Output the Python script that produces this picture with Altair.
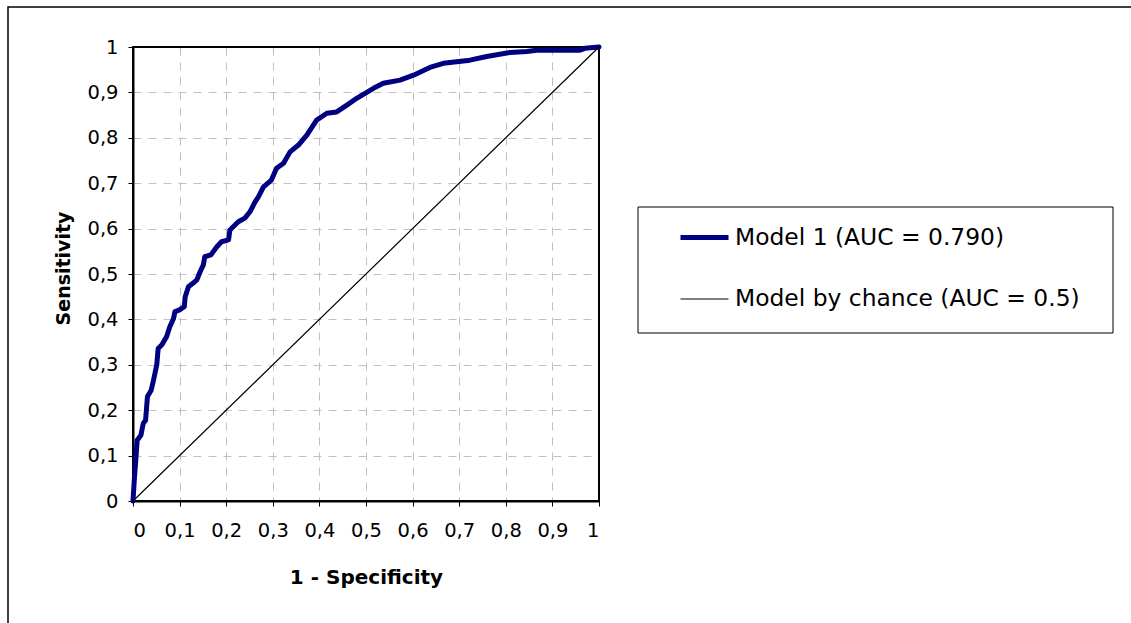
import altair as alt
import pandas as pd

# ROC curve of Model 1
model_fpr = [0, 0.003, 0.006, 0.009, 0.017, 0.022, 0.027, 0.031, 0.039, 0.044,
             0.051, 0.054, 0.062, 0.072, 0.079, 0.087, 0.09, 0.1, 0.11, 0.112,
             0.119, 0.129, 0.137, 0.144, 0.151, 0.154, 0.167, 0.18, 0.19, 0.205,
             0.208, 0.226, 0.24, 0.251, 0.262, 0.269, 0.28, 0.297, 0.308, 0.323,
             0.337, 0.355, 0.373, 0.394, 0.416, 0.437, 0.459, 0.48, 0.516, 0.537,
             0.573, 0.602, 0.637, 0.666, 0.723, 0.759, 0.809, 0.845, 0.866, 0.959,
             0.97, 1.0]
model_tpr = [0, 0.05, 0.09, 0.134, 0.145, 0.171, 0.178, 0.23, 0.244, 0.266,
             0.3, 0.336, 0.344, 0.362, 0.384, 0.402, 0.417, 0.421, 0.428, 0.45,
             0.472, 0.48, 0.487, 0.505, 0.52, 0.538, 0.542, 0.56, 0.571, 0.575,
             0.597, 0.615, 0.623, 0.637, 0.659, 0.67, 0.692, 0.707, 0.733, 0.744,
             0.769, 0.784, 0.806, 0.839, 0.854, 0.857, 0.872, 0.887, 0.909, 0.92,
             0.927, 0.938, 0.955, 0.964, 0.971, 0.979, 0.988, 0.99, 0.993, 0.993,
             0.997, 1.0]

# Chance line
chance_fpr = [0, 1]
chance_tpr = [0, 1]

series_names = ["Model 1 (AUC = 0.790)", "Model by chance (AUC = 0.5)"]
series_colors = ["#000080", "#000000"]
series_widths = [5, 1.2]

tick_values = [0, 0.1, 0.2, 0.3, 0.4, 0.5, 0.6, 0.7, 0.8, 0.9, 1]

rows = []
for i, (fx, ty) in enumerate(zip(model_fpr, model_tpr)):
    rows.append({"series": series_names[0], "fpr": fx, "tpr": ty, "order": i})
for i, (fx, ty) in enumerate(zip(chance_fpr, chance_tpr)):
    rows.append({"series": series_names[1], "fpr": fx, "tpr": ty, "order": i})
df = pd.DataFrame(rows)

FONT = "DejaVu Sans"
label_expr = "replace(format(datum.value, '.1~f'), '.', ',')"

legend = alt.Legend(
    title=None, orient="none", legendX=545, legendY=164,
    symbolType="stroke", symbolSize=2304, labelFont=FONT, labelFontSize=23.4,
    labelColor="black", labelOffset=4, padding=0, rowPadding=25, labelLimit=0,
)

lines = alt.Chart(df).mark_line(strokeCap="round", strokeJoin="round").encode(
    x=alt.X("fpr:Q", scale=alt.Scale(domain=[0, 1], nice=False),
            axis=alt.Axis(values=tick_values, title="1 - Specificity",
                          labelExpr=label_expr, labelPadding=15, titlePadding=28,
                          titleFontSize=20)),
    y=alt.Y("tpr:Q", scale=alt.Scale(domain=[0, 1], nice=False),
            axis=alt.Axis(values=tick_values, title="Sensitivity",
                          labelExpr=label_expr, labelPadding=10, titlePadding=13,
                          titleY=221)),
    color=alt.Color("series:N", scale=alt.Scale(domain=series_names, range=series_colors),
                    legend=legend),
    strokeWidth=alt.StrokeWidth("series:N",
                                scale=alt.Scale(type="ordinal", domain=series_names, range=series_widths),
                                legend=legend),
    order="order:Q",
    detail="series:N",
)

frame_data = alt.Data(values=[{"k": 1}])
outer_frame = alt.Chart(frame_data).mark_rect(fillOpacity=0, stroke="black", strokeWidth=1.5).encode(
    x=alt.value(-125), x2=alt.value(1300), y=alt.value(-40), y2=alt.value(800)
)
legend_box = alt.Chart(frame_data).mark_rect(fillOpacity=0, stroke="black", strokeWidth=1).encode(
    x=alt.value(505), x2=alt.value(980), y=alt.value(160), y2=alt.value(286)
)
plot_frame = alt.Chart(frame_data).mark_rect(fillOpacity=0, stroke="black", strokeWidth=2).encode(
    x=alt.value(0), x2=alt.value(466), y=alt.value(0), y2=alt.value(454)
)

chart = alt.layer(outer_frame, legend_box, plot_frame, lines).properties(
    width=466, height=454,
    autosize=alt.AutoSizeParams(type="none"),
    padding={"left": 133, "top": 47, "right": 532, "bottom": 122},
    background="white",
).configure_view(
    stroke=None
).configure_axis(
    domainColor="black", domainWidth=2, tickColor="black", tickSize=5, tickWidth=1,
    labelFont=FONT, labelFontSize=19.5, labelColor="black",
    titleFont=FONT, titleFontSize=19, titleFontWeight="bold", titleColor="black",
    gridColor="#c0c0c0", gridDash=[8, 7], gridWidth=1,
)

chart.save("out.html", embed_options={"renderer": "svg", "actions": False})
